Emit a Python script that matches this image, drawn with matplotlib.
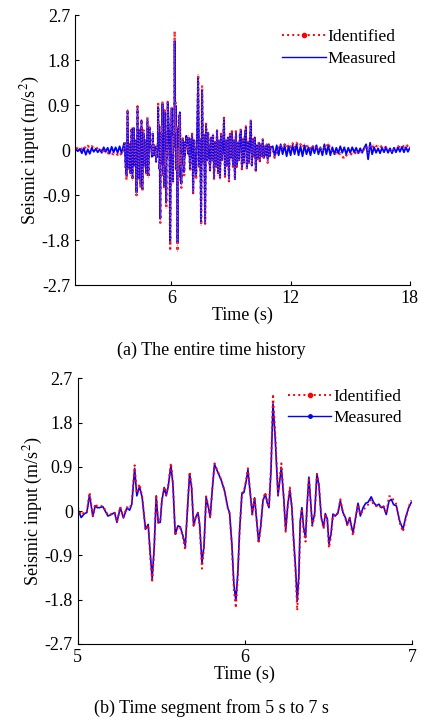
import numpy as np
import matplotlib.pyplot as plt
from matplotlib.lines import Line2D

plt.rcParams['font.family'] = ['Liberation Serif', 'DejaVu Serif']
plt.rcParams['mathtext.fontset'] = 'stix'

# quiet start, 1.2 s .. 3.6 s every 0.1 s
meas_q1 = [0.02, -0.02, 0.03, -0.06, 0.04, -0.09, 0.02, -0.07, 0.05, -0.03, 0.03, -0.04, 0.02,
           -0.05, 0.06, -0.03, 0.05, -0.06, 0.07, -0.04, 0.06, -0.05, 0.08, -0.06, 0.1]
iden_q1 = [0.05, 0.03, 0.06, 0.02, 0.08, 0.03, 0.09, 0.04, 0.08, 0.05, 0.07, 0.02, 0.04,
           -0.03, 0.01, -0.07, -0.05, -0.09, -0.06, -0.08, -0.05, -0.09, -0.04, -0.1, 0.05]

# strong part before the zoomed segment, 3.65 s .. 4.95 s every 0.05 s
meas_s1 = [0.15, -0.3, -0.5, 0.78, -0.35, 0.1, -0.45, 0.42, -0.55, 0.45, -0.3, 0.2, -0.85, 0.85,
           -0.55, 0.4, -0.7, 0.6, -0.78, 0.35, -0.3, 0.2, -0.45, 0.62, -0.5, 0.45, 0.05]
iden_s1 = [0.18, -0.35, -0.6, 0.82, -0.4, 0.12, -0.5, 0.45, -0.6, 0.48, -0.35, 0.22, -0.9, 0.88,
           -0.6, 0.45, -0.75, 0.62, -0.82, 0.4, -0.35, 0.22, -0.5, 0.66, -0.55, 0.5, 0.08]

# segment 5 s .. 7 s
t_seg = [5.000, 5.020, 5.040, 5.054, 5.070, 5.090, 5.104, 5.116, 5.130, 5.150,
         5.180, 5.200, 5.220, 5.234, 5.254, 5.273, 5.293, 5.310, 5.323, 5.340,
         5.353, 5.369, 5.385, 5.405, 5.421, 5.433, 5.445, 5.457, 5.469, 5.481,
         5.493, 5.503, 5.517, 5.529, 5.541, 5.557, 5.569, 5.583, 5.599, 5.613,
         5.629, 5.643, 5.653, 5.669, 5.681, 5.693, 5.705, 5.719, 5.729, 5.743,
         5.755, 5.768, 5.782, 5.792, 5.804, 5.818, 5.838, 5.858, 5.878, 5.898,
         5.908, 5.922, 5.934, 5.946, 5.958, 5.968, 5.982, 5.994, 6.008, 6.018,
         6.032, 6.044, 6.058, 6.068, 6.082, 6.094, 6.108, 6.122, 6.134, 6.144,
         6.156, 6.168, 6.182, 6.198, 6.218, 6.232, 6.244, 6.257, 6.269, 6.281,
         6.291, 6.303, 6.313, 6.323, 6.331, 6.341, 6.351, 6.363, 6.371, 6.383,
         6.393, 6.403, 6.417, 6.431, 6.443, 6.457, 6.471, 6.481, 6.493, 6.503,
         6.515, 6.527, 6.541, 6.557, 6.571, 6.587, 6.601, 6.613, 6.627, 6.637,
         6.647, 6.661, 6.677, 6.691, 6.707, 6.723, 6.737, 6.756, 6.770, 6.786,
         6.802, 6.816, 6.830, 6.846, 6.862, 6.876, 6.890, 6.906, 6.926, 6.946,
         6.962, 6.980, 6.996]
meas_seg = [0.04, -0.13, -0.05, -0.03, 0.33, -0.11, 0.11, 0.07, 0.07, 0.09,
            -0.10, -0.07, -0.03, -0.23, 0.07, -0.14, 0.06, 0.02, 0.14, 0.87,
            0.31, 0.50, 0.28, -0.37, -0.27, -0.84, -1.37, -0.74, 0.31, -0.23,
            -0.23, 0.21, 0.48, 0.31, 0.50, 0.93, 0.55, -0.47, -0.30, -0.32,
            -0.50, -0.71, -0.13, 0.76, 0.48, -0.30, -0.13, -0.03, -0.27, -1.05,
            -0.71, 0.28, 0.07, -0.13, 0.41, 0.95, 0.79, 0.63, 0.41, 0.06,
            -0.03, -0.67, -1.49, -1.82, -1.22, -0.40, 0.35, 0.38, 0.62, 0.84,
            0.35, -0.06, 0.27, -0.10, -0.62, -0.33, 0.21, 0.35, 0.16, 0.07,
            0.82, 2.18, 1.44, 0.31, 0.89, 0.28, -0.39, 0.14, 0.43, 0.07,
            -0.54, -1.15, -1.83, -1.29, -0.20, 0.07, -0.33, -0.54, 0.07, 0.69,
            0.21, -0.27, -0.06, 0.76, 0.52, -0.13, -0.33, -0.05, -0.16, -0.67,
            -0.47, -0.06, -0.10, -0.03, 0.21, -0.03, -0.13, -0.28, -0.13, -0.30,
            -0.44, -0.16, 0.16, -0.10, 0.07, 0.16, 0.18, 0.29, 0.18, 0.11,
            0.14, 0.07, 0.09, -0.07, 0.20, 0.24, 0.13, 0.11, -0.20, -0.37,
            -0.13, 0.07, 0.18]
iden_seg = [0.08, -0.08, -0.02, -0.02, 0.38, -0.09, 0.15, 0.10, 0.09, 0.11,
            -0.08, -0.06, -0.02, -0.22, 0.09, -0.12, 0.08, 0.05, 0.17, 0.93,
            0.36, 0.55, 0.30, -0.38, -0.28, -0.90, -1.45, -0.78, 0.33, -0.24,
            -0.22, 0.23, 0.50, 0.33, 0.52, 0.98, 0.58, -0.50, -0.31, -0.34,
            -0.53, -0.79, -0.14, 0.80, 0.50, -0.32, -0.14, -0.04, -0.29, -1.17,
            -0.75, 0.30, 0.08, -0.14, 0.43, 0.97, 0.80, 0.64, 0.42, 0.05,
            -0.05, -0.72, -1.60, -1.97, -1.30, -0.42, 0.37, 0.40, 0.64, 0.87,
            0.37, -0.07, 0.29, -0.11, -0.66, -0.35, 0.23, 0.38, 0.18, 0.08,
            0.90, 2.38, 1.55, 0.35, 0.97, 0.30, -0.42, 0.15, 0.48, 0.08,
            -0.58, -1.25, -2.02, -1.40, -0.25, 0.05, -0.40, -0.62, 0.02, 0.69,
            0.20, -0.30, -0.09, 0.75, 0.55, -0.14, -0.36, -0.06, -0.18, -0.75,
            -0.52, -0.08, -0.11, -0.04, 0.24, -0.04, -0.14, -0.30, -0.14, -0.33,
            -0.50, -0.18, 0.14, -0.07, 0.01, 0.09, 0.13, 0.24, 0.13, 0.10,
            0.13, 0.06, 0.10, -0.05, 0.30, 0.30, 0.22, 0.14, -0.23, -0.42,
            -0.15, 0.08, 0.22]

# strong part after the segment, 7.05 s .. 11.0 s every 0.05 s
meas_s2 = [0.3, -0.84, 0.2, -0.3, -0.5, 0.4, 1.45, -0.3, 0.2, -1.42,
           1.2, -0.2, 0.3, -1.45, 0.5, -0.2, 0.35, -0.1, -0.4, 0.25,
           -0.2, 0.3, -0.55, 0.15, -0.3, 0.4, -0.45, 0.2, -0.55, 0.3,
           -0.2, 0.1, 0.62, -0.5, 0.2, -0.3, 0.25, -0.57, 0.3, -0.15,
           0.35, -0.3, 0.2, -0.58, 0.35, -0.3, 0.15, -0.2, 0.3, 0.4,
           -0.35, 0.2, -0.25, 0.3, 0.45, -0.35, 0.15, -0.25, 0.2, 0.58,
           -0.3, 0.2, -0.1, 0.25, -0.4, 0.1, -0.15, 0.15, -0.2, 0.1,
           -0.1, 0.2, -0.15, 0.08, -0.1, 0.12, -0.2, 0.1, -0.12, 0.05]
iden_s2 = [0.33, -0.86, 0.22, -0.33, -0.55, 0.43, 1.52, -0.33, 0.22, -1.5,
           1.3, -0.22, 0.33, -1.47, 0.53, -0.22, 0.38, -0.12, -0.43, 0.28,
           -0.22, 0.33, -0.6, 0.17, -0.33, 0.43, -0.5, 0.22, -0.58, 0.33,
           -0.22, 0.12, 0.65, -0.53, 0.22, -0.33, 0.28, -0.62, 0.33, -0.17,
           0.38, -0.33, 0.22, -0.6, 0.38, -0.33, 0.17, -0.22, 0.33, 0.43,
           -0.38, 0.22, -0.28, 0.33, 0.48, -0.38, 0.17, -0.28, 0.22, 0.62,
           -0.33, 0.22, -0.12, 0.28, -0.45, 0.12, -0.17, 0.17, -0.22, 0.12,
           -0.12, 0.22, -0.17, 0.1, -0.12, 0.14, -0.25, 0.12, -0.14, 0.07]

# quiet tail, 11.1 s .. 18.0 s every 0.1 s
meas_q2 = [0.08, -0.12, 0.1, -0.1, 0.12, -0.08, 0.1, -0.12, 0.08,
           -0.1, 0.1, -0.08, 0.12, -0.1, 0.08, -0.12, 0.1, -0.08, 0.06,
           -0.1, 0.08, -0.06, 0.1, -0.08, 0.06, -0.1, 0.12, -0.08, 0.1,
           -0.1, 0.06, -0.08, 0.05, -0.06, 0.08, -0.05, 0.06, -0.08, 0.05,
           -0.05, 0.06, -0.04, 0.05, -0.06, 0.04, -0.05, 0.05, 0.12, -0.18,
           0.15, -0.08, 0.06, -0.05, 0.04, -0.06, 0.05, -0.04, 0.06, -0.05,
           0.04, -0.06, 0.05, -0.04, 0.06, -0.03, 0.07, -0.04, 0.06, -0.03,
           0.05]
iden_q2 = [0.02, -0.15, -0.05, 0.05, 0.1, 0.03, 0.12, 0.05, 0.13,
           0.06, 0.14, 0.04, 0.15, 0.08, 0.12, 0.05, 0.13, 0.08, 0.1,
           0.03, 0.1, 0.02, 0.08, 0.0, 0.05, -0.03, 0.08, 0.05, 0.15,
           0.02, -0.03, -0.08, -0.05, -0.1, -0.06, -0.12, -0.17, -0.1, -0.08,
           -0.1, -0.05, -0.08, -0.03, -0.06, -0.02, -0.04, 0.03, 0.08, -0.05,
           0.1, 0.05, 0.12, 0.08, 0.1, 0.06, 0.09, 0.04, 0.07, 0.02,
           0.0, -0.02, 0.03, 0.05, 0.08, 0.06, 0.1, 0.07, 0.12, 0.08,
           0.06]

yticks = [-2.7, -1.8, -0.9, 0, 0.9, 1.8, 2.7]
ytick_labels = ['-2.7', '-1.8', '-0.9', '0', '0.9', '1.8', '2.7']

# sampling grids
t_q1 = np.linspace(1.2, 3.6, len(meas_q1))
t_s1 = np.linspace(3.65, 4.95, len(meas_s1))
t_s2 = np.linspace(7.05, 11.0, len(meas_s2))
t_q2 = np.linspace(11.1, 18.0, len(meas_q2))

t_all = np.concatenate([t_q1, t_s1, t_seg, t_s2, t_q2])
meas_all = np.concatenate([meas_q1, meas_s1, meas_seg, meas_s2, meas_q2])
iden_all = np.concatenate([iden_q1, iden_s1, iden_seg, iden_s2, iden_q2])

fig = plt.figure(figsize=(4.23, 7.26), dpi=100)
ax1 = fig.add_axes([0.177, 0.607, 0.792, 0.372])
ax2 = fig.add_axes([0.184, 0.113, 0.790, 0.366])

ax1.plot(t_all, iden_all, color='red', lw=1.6, ls=':')
ax1.plot(t_all, meas_all, color='blue', lw=1.3)
ax1.plot(t_all, iden_all, color='#ff6060', lw=0.8, ls=':', alpha=0.7)
ax1.set_xlim(1.15, 18)
ax1.set_xticks([6, 12, 18])

ax2.plot(t_seg, meas_seg, color='blue', lw=1.2)
ax2.plot(t_seg, iden_seg, color='red', lw=1.4, ls=':')
ax2.set_xlim(5, 7)
ax2.set_xticks([5, 6, 7])

for ax in [ax1, ax2]:
    ax.set_ylim(-2.7, 2.7)
    ax.set_yticks(yticks)
    ax.set_yticklabels(ytick_labels)
    ax.spines['top'].set_visible(False)
    ax.spines['right'].set_visible(False)
    ax.tick_params(direction='in', labelsize=13, length=3)
    ax.set_xlabel('Time (s)', fontsize=13, labelpad=0)
    ax.set_ylabel('Seismic input (m/s$^2$)', fontsize=13, labelpad=0)

h1 = [Line2D([], [], color='red', ls=':', lw=1.4, marker='.', markersize=6),
      Line2D([], [], color='blue', lw=1.0)]
ax1.legend(h1, ['Identified', 'Measured'], loc='upper right', frameon=False,
           fontsize=12.5, handlelength=2.5, handletextpad=0.1, borderaxespad=0.4,
           labelspacing=0.3)
h2 = [Line2D([], [], color='red', ls=':', lw=1.4, marker='.', markersize=6),
      Line2D([], [], color='blue', lw=1.0, marker='.', markersize=5)]
ax2.legend(h2, ['Identified', 'Measured'], loc='upper right', frameon=False,
           fontsize=12.5, handlelength=2.5, handletextpad=0.1, borderaxespad=0.2,
           labelspacing=0.3)

fig.text(0.5, 0.518, '(a) The entire time history', ha='center', va='center', fontsize=13)
fig.text(0.5, 0.025, '(b) Time segment from 5 s to 7 s', ha='center', va='center', fontsize=13)

fig.savefig('out.png', dpi=100)
